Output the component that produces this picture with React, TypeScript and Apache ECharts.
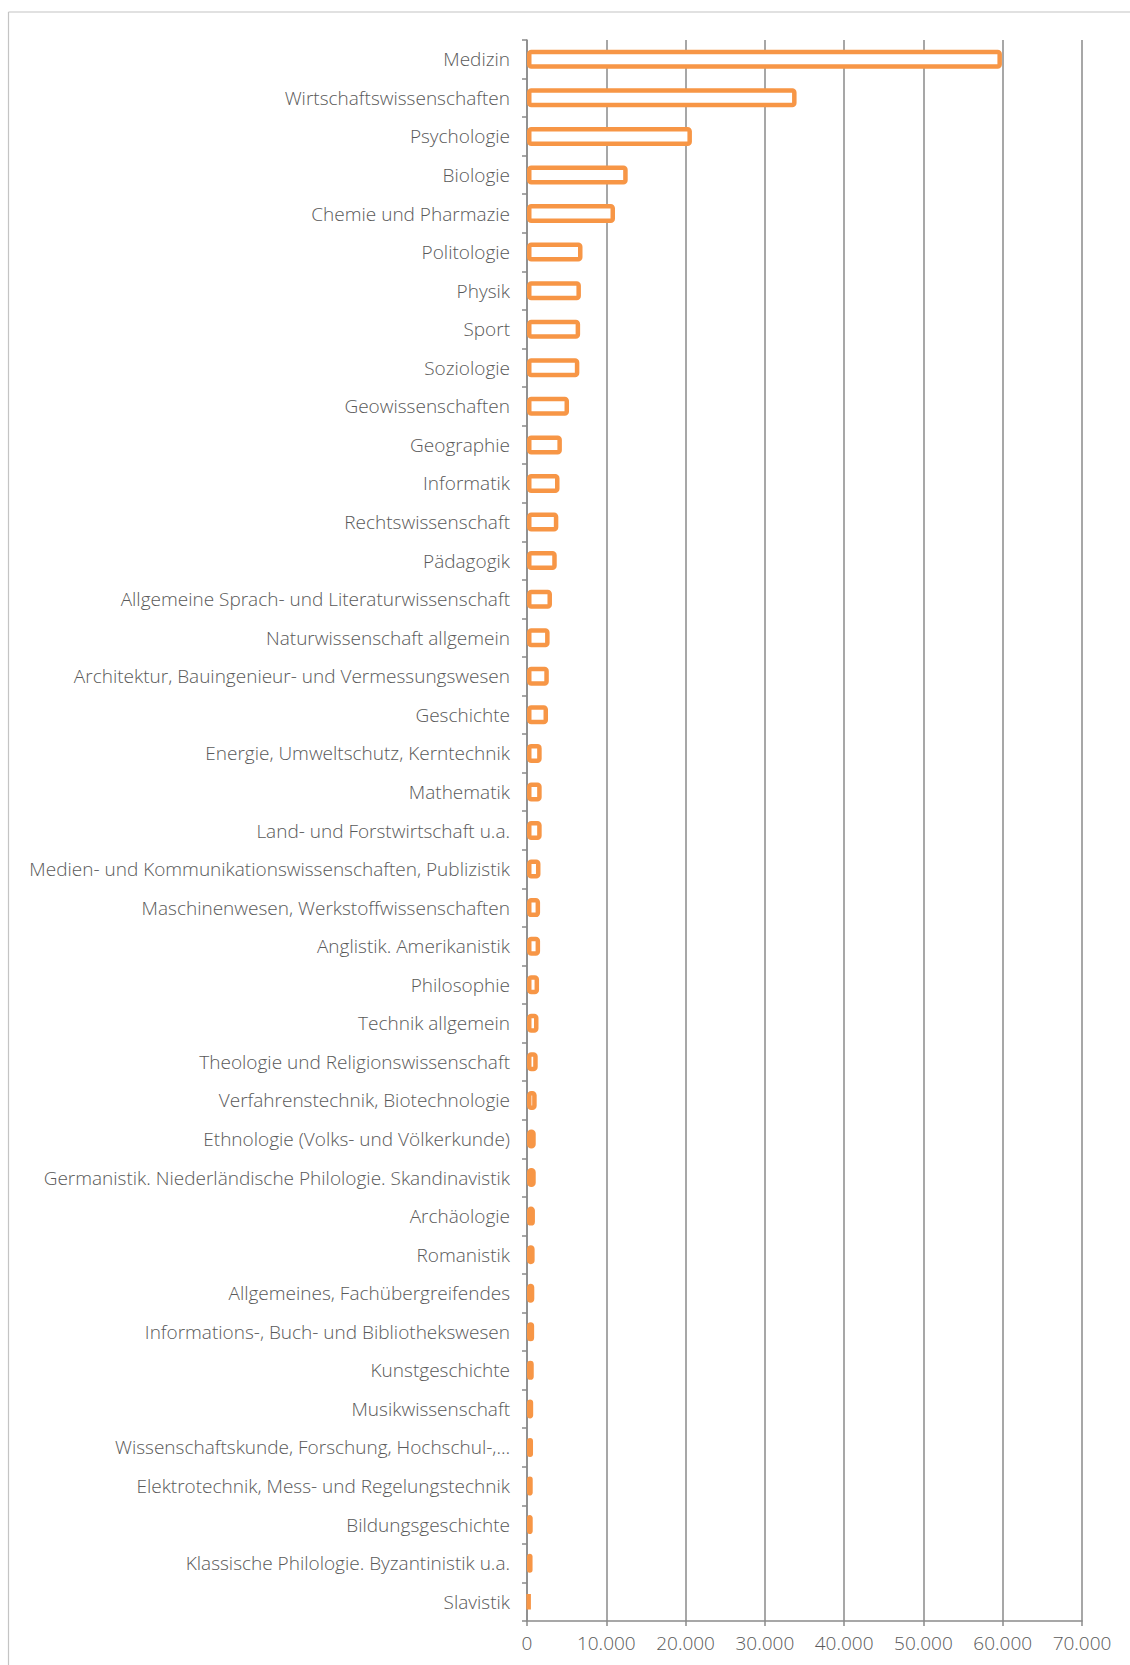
import React, { useEffect, useRef } from "react";
import * as echarts from "echarts";

const categories: string[] = [
  "Medizin",
  "Wirtschaftswissenschaften",
  "Psychologie",
  "Biologie",
  "Chemie und Pharmazie",
  "Politologie",
  "Physik",
  "Sport",
  "Soziologie",
  "Geowissenschaften",
  "Geographie",
  "Informatik",
  "Rechtswissenschaft",
  "Pädagogik",
  "Allgemeine Sprach- und Literaturwissenschaft",
  "Naturwissenschaft allgemein",
  "Architektur, Bauingenieur- und Vermessungswesen",
  "Geschichte",
  "Energie, Umweltschutz, Kerntechnik",
  "Mathematik",
  "Land- und Forstwirtschaft u.a.",
  "Medien- und Kommunikationswissenschaften, Publizistik",
  "Maschinenwesen, Werkstoffwissenschaften",
  "Anglistik. Amerikanistik",
  "Philosophie",
  "Technik allgemein",
  "Theologie und Religionswissenschaft",
  "Verfahrenstechnik, Biotechnologie",
  "Ethnologie (Volks- und Völkerkunde)",
  "Germanistik. Niederländische Philologie. Skandinavistik",
  "Archäologie",
  "Romanistik",
  "Allgemeines, Fachübergreifendes",
  "Informations-, Buch- und Bibliothekswesen",
  "Kunstgeschichte",
  "Musikwissenschaft",
  "Wissenschaftskunde, Forschung, Hochschul-,…",
  "Elektrotechnik, Mess- und Regelungstechnik",
  "Bildungsgeschichte",
  "Klassische Philologie. Byzantinistik u.a.",
  "Slavistik",
];

const values: number[] = [
  59900, 34000, 20800, 12700, 11100, 7000, 6800, 6700, 6600, 5300, 4400, 4100,
  3950, 3750, 3150, 2850, 2750, 2650, 1850, 1850, 1850, 1700, 1650, 1650, 1520,
  1450, 1350, 1220, 1100, 1100, 1000, 960, 920, 900, 850, 780, 760, 720, 720,
  700, 420,
];

const xTicks = { min: 0, max: 70000, interval: 10000 };

const fmt = (v: number) =>
  String(Math.round(v)).replace(/\B(?=(\d{3})+(?!\d))/g, ".");

export default function App() {
  const ref = useRef<HTMLDivElement>(null);
  useEffect(() => {
    if (!ref.current) return;
    const chart = echarts.init(ref.current, null, { renderer: "svg" });
    const gray = "#8a8a8a";
    const textColor = "#595959";
    const font = "'Open Sans', 'Noto Sans', sans-serif";
    chart.setOption({
      animation: false,
      backgroundColor: "#ffffff",
      grid: { left: 527, right: 48, top: 40, bottom: 44, containLabel: false },
      graphic: [
        {
          type: "line",
          shape: { x1: 8.5, y1: 12, x2: 1130, y2: 12 },
          style: { stroke: "#c4c4c4", lineWidth: 1.2 },
        },
        {
          type: "line",
          shape: { x1: 8.5, y1: 12, x2: 8.5, y2: 1665 },
          style: { stroke: "#c4c4c4", lineWidth: 1.2 },
        },
      ],
      xAxis: {
        type: "value",
        min: xTicks.min,
        max: xTicks.max,
        interval: xTicks.interval,
        axisLine: { show: true, lineStyle: { color: gray, width: 1.5 } },
        axisTick: { show: true, length: 5, lineStyle: { color: gray, width: 1.5 } },
        splitLine: { show: true, lineStyle: { color: gray, width: 1.5 } },
        axisLabel: {
          color: textColor,
          fontSize: 19,
          fontFamily: font,
          fontWeight: 300,
          margin: 12,
          formatter: (v: number) => fmt(v),
        },
      },
      yAxis: {
        type: "category",
        inverse: true,
        data: categories,
        axisLine: { show: true, lineStyle: { color: gray, width: 1.5 } },
        axisTick: { show: true, length: 5, lineStyle: { color: gray, width: 1.5 } },
        splitLine: { show: false },
        axisLabel: {
          color: textColor,
          fontSize: 19,
          fontFamily: font,
          fontWeight: 300,
          margin: 17,
        },
      },
      series: [
        {
          type: "bar",
          data: values,
          barWidth: 19,
          itemStyle: {
            color: "#ffffff",
            borderColor: "#F79646",
            borderWidth: 4.5,
            borderRadius: 2,
          },
        },
      ],
    });
    return () => chart.dispose();
  }, []);
  return (
    <div
      ref={ref}
      style={{ position: "absolute", left: 0, top: 0, width: 1130, height: 1665 }}
    />
  );
}
